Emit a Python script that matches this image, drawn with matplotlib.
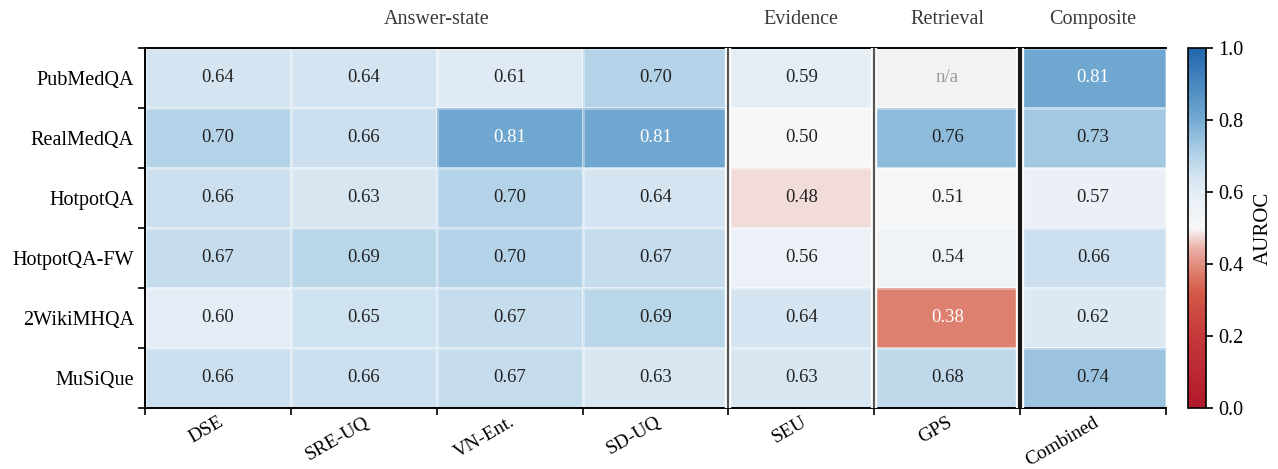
import numpy as np
import matplotlib
matplotlib.use("Agg")
import matplotlib.pyplot as plt
from matplotlib.colors import LinearSegmentedColormap

plt.rcParams['font.family'] = ['Liberation Serif', 'DejaVu Serif']

datasets = ["PubMedQA", "RealMedQA", "HotpotQA", "HotpotQA-FW", "2WikiMHQA", "MuSiQue"]
methods = ["DSE", "SRE-UQ", "VN-Ent.", "SD-UQ", "SEU", "GPS", "Combined"]
groups = ["Answer-state", "Evidence", "Retrieval", "Composite"]
group_spans = [(0, 4), (4, 5), (5, 6), (6, 7)]

auroc = np.array([
    [0.64, 0.64, 0.61, 0.70, 0.59, np.nan, 0.81],
    [0.70, 0.66, 0.81, 0.81, 0.50, 0.76, 0.73],
    [0.66, 0.63, 0.70, 0.64, 0.48, 0.51, 0.57],
    [0.67, 0.69, 0.70, 0.67, 0.56, 0.54, 0.66],
    [0.60, 0.65, 0.67, 0.69, 0.64, 0.38, 0.62],
    [0.66, 0.66, 0.67, 0.63, 0.63, 0.68, 0.74],
])

# red side stays saturated until close to 0.5, blue side ramps up gently
cmap = LinearSegmentedColormap.from_list("auroc", [
    (0.00, "#b2182b"), (0.20, "#c4383a"), (0.32, "#d45a48"),
    (0.38, "#dd806f"), (0.44, "#e9aca4"), (0.50, "#f7f7f7"),
    (0.60, "#e4edf5"), (0.65, "#d0e2ef"), (0.70, "#b5d3e8"),
    (0.75, "#95c0de"), (0.80, "#74abd2"), (0.90, "#4a88c0"),
    (1.00, "#2166ac"),
])
cmap.set_bad("#f2f2f2")

fig = plt.figure(figsize=(12.78, 4.69), dpi=100)
ax = fig.add_axes([145 / 1278, 61 / 469, 1021 / 1278, 360 / 469])
cax = fig.add_axes([1188 / 1278, 61 / 469, 18 / 1278, 360 / 469])

nr, nc = auroc.shape
mesh = ax.pcolormesh(np.arange(nc + 1), np.arange(nr + 1), np.ma.masked_invalid(auroc),
                     cmap=cmap, vmin=0, vmax=1,
                     edgecolors=(1, 1, 1, 0.35), linewidth=0.8)
ax.set_xlim(0, nc)
ax.set_ylim(nr, 0)

for i in range(nr):
    for j in range(nc):
        v = auroc[i, j]
        if np.isnan(v):
            ax.text(j + 0.5, i + 0.5, "n/a", ha="center", va="center",
                    fontsize=13.5, color="#9a9a9a")
        else:
            col = "white" if (v >= 0.8 or v <= 0.4) else "#222222"
            ax.text(j + 0.5, i + 0.5, f"{v:.2f}", ha="center", va="center",
                    fontsize=13.5, color=col)

# group separators
for x, lw, c in [(4, 1.6, "#555555"), (5, 1.6, "#555555"), (6, 3.0, "#1a1a1a")]:
    ax.axvline(x, color="white", lw=lw + 3, zorder=3)
    ax.axvline(x, color=c, lw=lw, zorder=4)

for name, (a, b) in zip(groups, group_spans):
    ax.text((a + b) / 2, -0.47, name, ha="center", va="center",
            fontsize=14.5, color="#3a3a3a")

ax.set_xticks(np.arange(nc) + 0.5)
ax.set_xticklabels(methods, rotation=30, ha="right", rotation_mode="anchor", fontsize=14)
ax.set_yticks(np.arange(nr) + 0.5)
ax.set_yticklabels(datasets, fontsize=14.5)
ax.set_xticks(np.arange(nc + 1), minor=True)
ax.set_yticks(np.arange(nr + 1), minor=True)
ax.tick_params(axis="y", which="major", length=0, pad=8)
ax.tick_params(axis="x", which="major", length=0, pad=4)
ax.tick_params(which="minor", length=5, width=1.2, direction="out")
ax.spines["right"].set_visible(False)
for s in ["top", "left", "bottom"]:
    ax.spines[s].set_linewidth(1.4)

cb = fig.colorbar(mesh, cax=cax)
cb.set_ticks([0, 0.2, 0.4, 0.6, 0.8, 1.0])
cb.ax.tick_params(labelsize=14.5, length=5, width=1.2)
cb.outline.set_linewidth(1.2)
cb.set_label("AUROC", fontsize=15, labelpad=8)

fig.savefig("out.png", dpi=100)
